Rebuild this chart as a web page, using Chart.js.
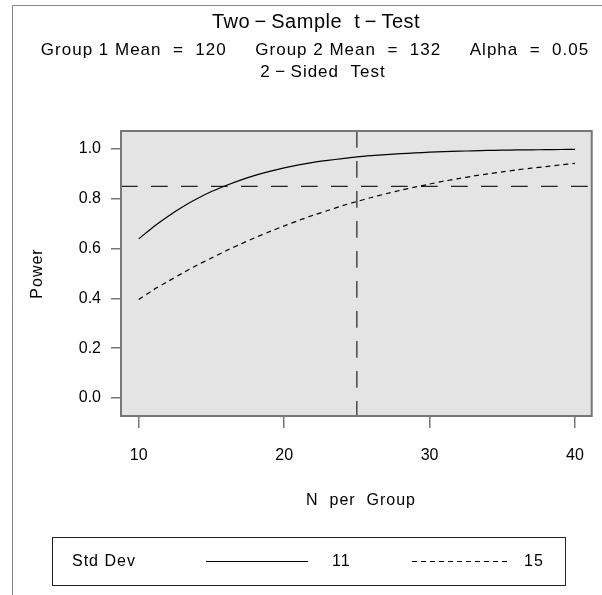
<!DOCTYPE html>
<html><head><meta charset="utf-8">
<script src="https://cdn.jsdelivr.net/npm/chart.js@4/dist/chart.umd.min.js"></script>
<style>html,body{margin:0;padding:0;background:#fff}#wrap{width:602px;height:595px;position:relative}</style>
</head><body><div id="wrap"><canvas id="c" width="602" height="595"></canvas></div>
<script>
const nPerGroup = [10,11,12,13,14,15,16,17,18,19,20,21,22,23,24,25,26,27,28,29,30,31,32,33,34,35,36,37,38,39,40];
const powerSd11 = [0.639,0.687,0.729,0.767,0.800,0.829,0.853,0.875,0.894,0.910,0.924,0.936,0.946,0.954,0.961,0.968,0.973,0.977,0.981,0.984,0.987,0.989,0.991,0.9925,0.994,0.995,0.996,0.9965,0.997,0.9977,0.998];
const powerSd15 = [0.396,0.434,0.468,0.501,0.533,0.562,0.591,0.618,0.644,0.668,0.691,0.713,0.734,0.753,0.772,0.789,0.805,0.820,0.834,0.847,0.859,0.871,0.881,0.891,0.900,0.908,0.916,0.923,0.929,0.936,0.942];
const stdDevLabels = ['11','15'];
const xTicks = [10,20,30,40];
const yTicks = [0.0,0.2,0.4,0.6,0.8,1.0];
const refN = 25;
const refPower = 0.85;
const titleLines = ['Two\u2009\u2212\u2009Sample  t\u2009\u2212\u2009Test', 'Group 1 Mean  =  120     Group 2 Mean  =  132     Alpha  =  0.05', '2\u2009\u2212\u2009Sided  Test'];
const xTitle = 'N  per  Group';
const yTitle = 'Power';
const legendTitle = 'Std Dev';

const FONT = '"Liberation Sans", Arial, sans-serif';

const decor = {
  id: 'decor',
  beforeDatasetsDraw(chart) {
    const {ctx, chartArea: a, scales} = chart;
    ctx.save();
    ctx.strokeStyle = '#222';
    ctx.lineWidth = 1.2;
    ctx.setLineDash([16.7, 13.3]);
    const yR = scales.y.getPixelForValue(refPower);
    ctx.beginPath(); ctx.moveTo(a.left, yR); ctx.lineTo(a.right, yR); ctx.stroke();
    const xR = scales.x.getPixelForValue(refN);
    ctx.beginPath(); ctx.moveTo(xR, a.top); ctx.lineTo(xR, a.bottom); ctx.stroke();
    ctx.restore();
  },
  beforeDraw(chart) {
    const {ctx, chartArea: a} = chart;
    ctx.save();
    ctx.fillStyle = '#fff';
    ctx.fillRect(0, 0, chart.width, chart.height);
    ctx.fillStyle = '#e4e4e4';
    ctx.fillRect(a.left, a.top, a.right - a.left, a.bottom - a.top);
    ctx.strokeStyle = '#888';
    ctx.lineWidth = 1;
    ctx.beginPath(); ctx.moveTo(12.5, chart.height); ctx.lineTo(12.5, 5.5); ctx.lineTo(chart.width, 5.5); ctx.stroke();
    ctx.restore();
  },
  afterDraw(chart) {
    const {ctx, chartArea: a} = chart;
    ctx.save();
    ctx.strokeStyle = '#777';
    ctx.lineWidth = 2;
    ctx.strokeRect(a.left, a.top, a.right - a.left, a.bottom - a.top);
    ctx.fillStyle = '#000';
    ctx.textAlign = 'center';
    ctx.textBaseline = 'middle';
    ctx.letterSpacing = '0.5px';
    ctx.font = '20px ' + FONT;
    ctx.fillText(titleLines[0], 316, 22);
    ctx.letterSpacing = '1px';
    ctx.font = '17px ' + FONT;
    ctx.fillText(titleLines[1], 315, 50);
    ctx.fillText(titleLines[2], 323, 72);
    ctx.font = '16px ' + FONT;
    ctx.fillText(xTitle, 361, 501);
    ctx.save();
    ctx.translate(38, (a.top + a.bottom) / 2);
    ctx.rotate(-Math.PI / 2);
    ctx.fillText(yTitle, 0, 0);
    ctx.restore();
    ctx.strokeStyle = '#222';
    ctx.lineWidth = 1;
    ctx.strokeRect(52.5, 537.5, 513, 48);
    ctx.textAlign = 'left';
    ctx.fillText(legendTitle, 72, 562);
    ctx.strokeStyle = '#000';
    ctx.beginPath(); ctx.moveTo(206, 561.5); ctx.lineTo(308, 561.5); ctx.stroke();
    ctx.fillText(stdDevLabels[0], 332, 562);
    ctx.setLineDash([5, 4]);
    ctx.beginPath(); ctx.moveTo(412, 561.5); ctx.lineTo(510, 561.5); ctx.stroke();
    ctx.setLineDash([]);
    ctx.fillText(stdDevLabels[1], 524, 562);
    ctx.restore();
  }
};

new Chart(document.getElementById('c'), {
  type: 'line',
  data: {
    datasets: [
      { label: stdDevLabels[0], data: nPerGroup.map((n, i) => ({x: n, y: powerSd11[i]})), borderColor: '#000', borderWidth: 1.2, pointRadius: 0, tension: 0.3, fill: false },
      { label: stdDevLabels[1], data: nPerGroup.map((n, i) => ({x: n, y: powerSd15[i]})), borderColor: '#000', borderWidth: 1.2, borderDash: [5, 4], pointRadius: 0, tension: 0.3, fill: false }
    ]
  },
  options: {
    responsive: false,
    animation: false,
    devicePixelRatio: 1,
    layout: { padding: { top: 131, right: 3, left: 0, bottom: 0 } },
    plugins: { legend: { display: false }, title: { display: false }, tooltip: { enabled: false } },
    scales: {
      x: {
        type: 'linear', min: 8.78, max: 41.15,
        afterFit: s => { s.height = 179; },
        afterBuildTicks: s => { s.ticks = xTicks.map(v => ({value: v})); },
        grid: { drawOnChartArea: false, drawTicks: true, tickLength: 12, color: '#777', lineWidth: 1.5 },
        border: { display: false },
        ticks: { padding: 18, color: '#000', font: { family: FONT, size: 16 }, maxRotation: 0, callback: v => String(v) }
      },
      y: {
        min: -0.072, max: 1.072,
        afterFit: s => { s.width = 121; },
        afterBuildTicks: s => { s.ticks = yTicks.map(v => ({value: v})); },
        grid: { drawOnChartArea: false, drawTicks: true, tickLength: 10, color: '#777', lineWidth: 1.5 },
        border: { display: false },
        ticks: { padding: 10, color: '#000', font: { family: FONT, size: 16 }, callback: v => Number(v).toFixed(1) }
      }
    }
  },
  plugins: [decor]
});
</script></body></html>
